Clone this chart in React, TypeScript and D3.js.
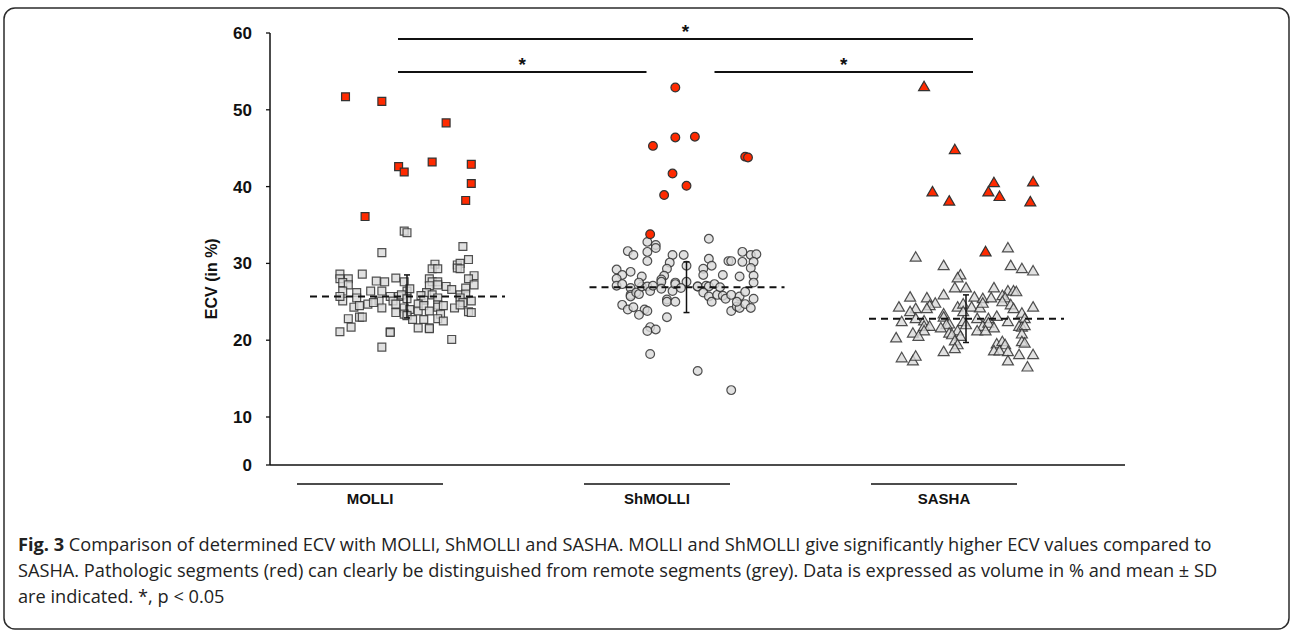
import React from 'react';
import * as d3 from 'd3';

const width = 1293;
const height = 632;

const categories = ['MOLLI', 'ShMOLLI', 'SASHA'];
const yTicks = [0, 10, 20, 30, 40, 50, 60];
const means = [25.7, 26.9, 22.8];
const sds = [2.8, 3.3, 3.1];

// each point: [jitter around the category, ECV in %]
const molliRemote = [
  [-0.01, 34.2], [0.0, 34.0], [-0.09, 31.4], [0.2, 32.2], [0.22, 30.5], [0.1, 29.9], [0.09, 29.3], [0.11, 29.3],
  [0.18, 29.8], [0.19, 30.0], [0.18, 29.4], [0.19, 29.3], [-0.24, 28.6], [-0.16, 28.6], [0.24, 28.4], [-0.24, 28.0],
  [-0.21, 28.0], [-0.23, 27.5], [-0.21, 27.2], [-0.11, 27.7], [-0.08, 27.6], [-0.04, 28.1], [-0.01, 27.6], [0.08, 28.0],
  [0.09, 27.6], [0.11, 27.6], [0.08, 27.1], [0.11, 27.2], [0.22, 28.0], [0.24, 27.2], [0.21, 26.8], [0.14, 27.0],
  [0.16, 26.6], [-0.23, 26.4], [-0.18, 26.2], [-0.13, 26.4], [-0.09, 26.4], [0.0, 26.4], [0.01, 26.7], [0.07, 26.2],
  [0.09, 25.9], [0.05, 25.8], [0.11, 25.5], [0.19, 25.9], [0.21, 26.0], [-0.18, 25.5], [-0.23, 25.1], [-0.24, 25.7],
  [-0.06, 25.7], [-0.03, 25.7], [-0.02, 25.9], [-0.1, 25.1], [-0.09, 24.2], [-0.05, 25.1], [0.0, 25.4], [0.06, 25.2],
  [0.04, 24.7], [0.11, 24.6], [0.19, 25.5], [0.2, 24.9], [0.23, 25.1], [-0.19, 24.3], [-0.17, 24.5], [-0.14, 24.7],
  [-0.12, 24.9], [-0.04, 24.7], [-0.04, 23.6], [-0.01, 24.2], [0.0, 23.3], [0.01, 24.0], [0.04, 23.8], [0.06, 24.5],
  [0.08, 23.8], [0.11, 24.3], [0.13, 24.5], [0.17, 24.2], [0.19, 24.6], [0.22, 23.7], [0.23, 23.6], [0.12, 23.4],
  [0.11, 22.8], [0.13, 22.5], [-0.01, 23.4], [0.0, 23.2], [0.02, 22.7], [0.06, 22.7], [-0.21, 22.8], [-0.17, 23.0],
  [-0.16, 23.0], [-0.2, 21.7], [-0.06, 21.1], [-0.06, 21.0], [0.04, 21.6], [0.08, 21.6], [0.08, 21.5], [-0.24, 21.1],
  [0.16, 20.1], [-0.09, 19.1],
];
const molliPatho = [
  [-0.22, 51.7], [-0.09, 51.1], [0.14, 48.3], [0.09, 43.2], [0.23, 42.9], [-0.03, 42.6], [-0.01, 41.9], [0.23, 40.4],
  [0.21, 38.2], [-0.15, 36.1],
];

const shmolliRemote = [
  [0.08, 33.2], [-0.14, 32.8], [-0.11, 32.4], [-0.11, 32.0], [-0.21, 31.6], [-0.19, 31.1], [-0.14, 31.5], [-0.14, 30.3],
  [-0.05, 31.1], [-0.01, 31.1], [0.2, 31.5], [0.23, 31.1], [0.25, 31.2], [0.24, 30.2], [0.23, 29.4], [0.24, 28.4],
  [0.24, 27.5], [0.08, 30.6], [0.09, 29.7], [0.06, 29.3], [0.06, 28.5], [0.15, 30.3], [0.16, 30.3], [0.2, 30.2],
  [-0.06, 30.1], [-0.07, 29.3], [-0.08, 28.4], [-0.09, 27.9], [-0.09, 27.6], [0.0, 29.7], [0.13, 28.5], [0.19, 28.3],
  [-0.25, 29.2], [-0.23, 28.5], [-0.25, 28.0], [-0.25, 27.1], [-0.23, 27.3], [-0.2, 28.9], [-0.16, 28.3], [-0.2, 26.8],
  [-0.2, 25.9], [-0.2, 25.7], [-0.18, 26.2], [-0.17, 26.0], [-0.16, 27.0], [-0.14, 27.0], [-0.13, 26.4], [-0.12, 27.1],
  [-0.09, 26.7], [-0.05, 26.4], [-0.04, 27.5], [-0.04, 27.3], [0.0, 27.6], [0.04, 27.0], [0.04, 27.0], [0.07, 27.1],
  [0.08, 27.0], [0.1, 27.3], [0.06, 26.2], [0.08, 25.7], [0.09, 25.0], [0.11, 25.9], [0.13, 25.8], [0.14, 25.4],
  [0.16, 25.9], [0.19, 25.7], [0.21, 26.3], [0.24, 25.4], [-0.07, 25.3], [-0.07, 25.0], [-0.04, 25.0], [-0.23, 24.6],
  [-0.21, 24.0], [-0.19, 24.3], [-0.15, 24.0], [-0.14, 23.8], [-0.17, 23.3], [0.16, 23.8], [0.18, 24.4], [0.19, 24.2],
  [0.21, 24.7], [0.23, 24.2], [-0.07, 23.0], [-0.13, 21.7], [-0.14, 21.2], [-0.11, 21.4], [-0.13, 18.2], [0.04, 16.0],
  [0.16, 13.5], [-0.02, 26.8], [0.12, 26.9], [-0.17, 27.5], [0.18, 25.0],
];
const shmolliPatho = [
  [-0.04, 52.9], [-0.04, 46.4], [0.03, 46.5], [-0.12, 45.3], [0.21, 43.9], [0.22, 43.8], [-0.05, 41.7], [0.0, 40.1],
  [-0.08, 38.9], [-0.13, 33.8],
];

const sashaRemote = [
  [0.15, 31.9], [-0.18, 30.7], [-0.08, 29.6], [0.16, 29.6], [0.2, 29.2], [0.24, 28.9], [-0.02, 28.4], [-0.03, 28.0],
  [-0.04, 26.7], [0.0, 26.7], [0.1, 26.7], [0.15, 26.3], [0.17, 26.3], [0.18, 26.2], [-0.08, 25.8], [-0.2, 25.5],
  [-0.14, 25.4], [0.03, 25.5], [0.06, 25.3], [0.09, 25.4], [0.13, 25.7], [0.14, 25.4], [-0.11, 24.7], [-0.13, 24.4],
  [-0.18, 24.0], [-0.24, 24.2], [-0.2, 23.6], [-0.14, 24.0], [-0.03, 24.2], [-0.01, 24.6], [0.02, 24.2], [0.05, 24.1],
  [0.06, 24.7], [0.13, 24.9], [0.16, 24.5], [0.17, 24.0], [0.24, 24.2], [-0.23, 22.3], [-0.18, 22.7], [-0.15, 22.4],
  [-0.08, 23.3], [-0.08, 22.9], [-0.01, 23.6], [-0.01, 22.3], [-0.06, 22.0], [0.04, 22.7], [0.08, 22.7], [0.11, 23.0],
  [0.15, 22.3], [0.2, 23.4], [0.21, 22.7], [-0.15, 21.7], [-0.13, 21.7], [-0.07, 21.9], [0.0, 21.9], [0.06, 21.7],
  [0.08, 22.1], [0.1, 21.5], [0.19, 21.7], [-0.15, 21.1], [-0.09, 21.5], [-0.03, 21.1], [0.04, 21.1], [0.07, 21.1],
  [0.2, 21.6], [0.21, 21.8], [-0.06, 20.8], [-0.05, 20.6], [-0.02, 20.4], [0.2, 20.7], [0.2, 19.7], [-0.25, 20.2],
  [-0.19, 20.8], [-0.17, 20.4], [-0.04, 19.8], [-0.03, 19.3], [0.11, 19.4], [0.13, 19.7], [0.14, 19.3], [0.1, 18.5],
  [0.12, 18.5], [0.15, 18.4], [0.21, 19.5], [-0.08, 18.4], [-0.04, 18.8], [-0.23, 17.6], [-0.19, 17.2], [-0.18, 17.8],
  [0.19, 18.0], [0.24, 18.0], [0.15, 17.2], [0.22, 16.4],
];
const sashaPatho = [
  [-0.15, 52.9], [-0.04, 44.7], [0.1, 40.4], [0.24, 40.5], [-0.12, 39.2], [0.08, 39.2], [0.12, 38.6], [-0.06, 38.0],
  [0.23, 37.9], [0.07, 31.4],
];

const remoteSets = [molliRemote, shmolliRemote, sashaRemote];
const pathoSets = [molliPatho, shmolliPatho, sashaPatho];

// significant pairs (indexes into categories), drawn as bars with a star
const comparisons = [
  {from: 0, to: 2, level: 0},
  {from: 0, to: 1, level: 1},
  {from: 1, to: 2, level: 1},
];

const captionBold = 'Fig. 3';
const captionLines = [
  ' Comparison of determined ECV with MOLLI, ShMOLLI and SASHA. MOLLI and ShMOLLI give significantly higher ECV values compared to',
  'SASHA. Pathologic segments (red) can clearly be distinguished from remote segments (grey). Data is expressed as volume in % and mean ± SD',
  'are indicated. *, p < 0.05',
];

const plot = {left: 270, top: 33, bottom: 465, axisEnd: 1125};

// the original axis squeezes the 0–10 step, so the scale is piecewise
const y = d3.scaleLinear().domain([0, 10, 60]).range([plot.bottom, 417, plot.top]);
const x = d3.scaleLinear().domain([0, 2]).range([407, 966]);
const xLabel = d3.scalePoint().domain(categories).range([370, 944]);
const jitter = d3.scaleLinear().domain([-1, 1]).range([-279.5, 279.5]);

const symbols = [
  d3.symbol(d3.symbolSquare, 62)(),
  d3.symbol(d3.symbolCircle, 60)(),
  d3.symbol(d3.symbolTriangle, 52)(),
];

const RED = '#ff2a00';
const GREY = '#d9d9d9';
const axisFont = '"Liberation Sans", Arial, sans-serif';

export default function App() {
  const bracketY = [39, 72];
  return (
    <div style={{position: 'absolute', left: 0, top: 0}}>
      <svg width={width} height={height} style={{display: 'block', background: '#fff'}}>
        <rect x={4} y={8} width={1285} height={621} rx={11} fill="none" stroke="#2b2b2b" strokeWidth={1.5} />

        {/* axes */}
        <line x1={plot.left} x2={plot.left} y1={plot.top} y2={plot.bottom} stroke="#111" strokeWidth={1.5} />
        <line x1={plot.left} x2={plot.axisEnd} y1={plot.bottom} y2={plot.bottom} stroke="#111" strokeWidth={1.5} />
        {yTicks.map(t => (
          <g key={t} transform={`translate(${plot.left},${y(t)})`}>
            <line x1={-4} x2={0} stroke="#111" strokeWidth={1.3} />
            <text x={-18} dy="0.35em" textAnchor="end" fontFamily={axisFont} fontWeight="bold" fontSize={17} fill="#111">
              {t}
            </text>
          </g>
        ))}
        <text
          transform={`translate(211,${y(28)}) rotate(-90)`}
          textAnchor="middle"
          dy="0.35em"
          fontFamily={axisFont}
          fontWeight="bold"
          fontSize={16}
          fill="#111"
        >
          ECV (in %)
        </text>

        {/* category labels */}
        {categories.map(c => (
          <g key={c} transform={`translate(${xLabel(c)},0)`}>
            <line x1={-73} x2={73} y1={484} y2={484} stroke="#111" strokeWidth={1.3} />
            <text y={504} textAnchor="middle" fontFamily={axisFont} fontWeight="bold" fontSize={15} fill="#111">
              {c}
            </text>
          </g>
        ))}

        {/* points */}
        {remoteSets.map((set, i) =>
          set.map(([j, v], k) => (
            <path
              key={`r${i}-${k}`}
              d={symbols[i]}
              transform={`translate(${x(i) + jitter(j)},${y(v)})`}
              fill={GREY}
              fillOpacity={0.8}
              stroke="#333"
              strokeOpacity={0.85}
              strokeWidth={1.2}
            />
          )),
        )}
        {pathoSets.map((set, i) =>
          set.map(([j, v], k) => (
            <path
              key={`p${i}-${k}`}
              d={symbols[i]}
              transform={`translate(${x(i) + jitter(j)},${y(v)})`}
              fill={RED}
              stroke="#333"
              strokeWidth={1.2}
            />
          )),
        )}

        {/* mean and SD */}
        {means.map((m, i) => (
          <g key={i}>
            <line
              x1={x(i) - 97}
              x2={x(i) + 98}
              y1={y(m)}
              y2={y(m)}
              stroke="#111"
              strokeWidth={2}
              strokeDasharray="7,5"
            />
            <line x1={x(i)} x2={x(i)} y1={y(m - sds[i])} y2={y(m + sds[i])} stroke="#111" strokeWidth={1.5} />
            <line x1={x(i) - 3} x2={x(i) + 3} y1={y(m + sds[i])} y2={y(m + sds[i])} stroke="#111" strokeWidth={1.5} />
            <line x1={x(i) - 3} x2={x(i) + 3} y1={y(m - sds[i])} y2={y(m - sds[i])} stroke="#111" strokeWidth={1.5} />
          </g>
        ))}

        {/* significance bars */}
        {comparisons.map((c, i) => {
          const x1 = c.from === 0 ? x(c.from) - 9 : x(c.from) + 28;
          const x2 = c.to === 2 ? x(c.to) + 7 : x(c.to) - 40;
          const yy = bracketY[c.level];
          return (
            <g key={i}>
              <line x1={x1} x2={x2} y1={yy} y2={yy} stroke="#111" strokeWidth={1.8} />
              <text
                x={(x1 + x2) / 2}
                y={yy - 1}
                textAnchor="middle"
                fontFamily={axisFont}
                fontWeight="bold"
                fontSize={19}
                fill="#111"
              >
                *
              </text>
            </g>
          );
        })}

        {/* caption */}
        <g fontFamily='"Open Sans", "Noto Sans", sans-serif' fontSize={18.2} fill="#222">
          {captionLines.map((line, i) => (
            <text key={i} x={18} y={551 + i * 26}>
              {i === 0 && <tspan fontWeight="bold">{captionBold}</tspan>}
              {line}
            </text>
          ))}
        </g>
      </svg>
    </div>
  );
}
